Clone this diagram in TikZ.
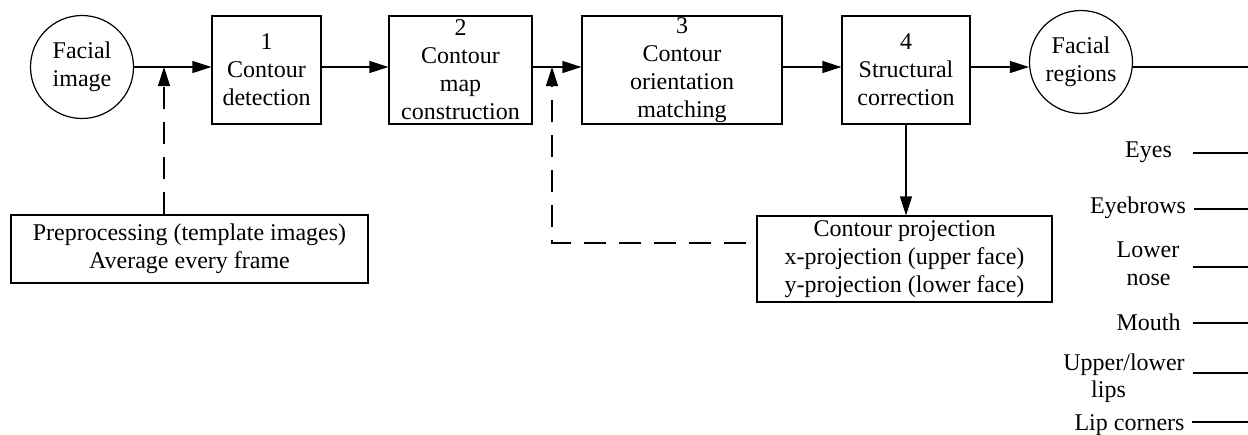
\documentclass[tikz,border=0pt]{standalone}
\usepackage{fontspec}
\setmainfont{Liberation Serif}
\usetikzlibrary{arrows.meta}
\begin{document}
\begin{tikzpicture}[x=1pt,y=-1pt,
  every node/.style={font=\fontsize{24}{28}\selectfont},
  stage/.style={draw, line width=1.2pt, inner sep=0pt, align=center, minimum height=108pt},
  term/.style={draw, circle, line width=1.2pt, minimum size=103pt, inner sep=0pt, align=center},
  conn/.style={line width=1.2pt},
  flow/.style={conn, -{Triangle[length=19pt,width=12pt]}},
  back/.style={conn, dash pattern=on 22pt off 13pt, -{Triangle[length=19pt,width=12pt]}},
  lab/.style={anchor=base, inner sep=0pt}
]
\useasboundingbox (0,0) rectangle (1248,434);

% processing chain
\node[term] (img) at (82,67) {Facial\\image};
\node[stage, minimum width=109pt] (s1) at (266.5,70) {1\\Contour\\detection};
\node[stage, minimum width=143pt] (s2) at (460.5,70) {2\\Contour\\map\\construction};
\node[stage, minimum width=200pt] (s3) at (682,70) {3\\Contour\\orientation\\matching};
\node[stage, minimum width=128pt] (s4) at (906,70) {4\\Structural\\correction};
\node[term] (reg) at (1081,62) {Facial\\regions};

% side inputs
\node[stage, minimum width=357pt, minimum height=68pt] (pre) at (189.5,249)
  {Preprocessing (template images)\\Average every frame};
\node[stage, minimum width=295pt, minimum height=86pt] (proj) at (904.5,259)
  {Contour projection\\x-projection (upper face)\\y-projection (lower face)};

% main flow line
\coordinate (fy) at (0,67);
\coordinate (rend) at (1248,67);
\draw[flow] (img.east) -- (s1.west |- fy);
\draw[flow] (s1.east |- fy) -- (s2.west |- fy);
\draw[flow] (s2.east |- fy) -- (s3.west |- fy);
\draw[flow] (s3.east |- fy) -- (s4.west |- fy);
\draw[flow] (s4.east |- fy) -- (reg.west |- fy);
\draw[conn] (reg.east |- fy) -- (rend);

% feedback / side connections
\coordinate (j1) at (164,67);
\draw[back] (pre.north -| j1) -- (j1);
\draw[flow] (s4.south) -- (s4.south |- proj.north);
\coordinate (j2) at (552,67);
\coordinate (j2b) at (552,243);
\draw[back, dash phase=25pt] (proj.west |- j2b) -- (j2b) -- (j2);

% facial region list
\node[lab] (eyes)  at (1148.5,157) {Eyes};
\node[lab] (brows) at (1138,213) {Eyebrows};
\node[lab] (lowr)  at (1148,257) {Lower};
\node[lab] (nose)  at (1148.5,285) {nose};
\node[lab] (mouth) at (1148.5,330) {Mouth};
\node[lab] (upper) at (1124,370) {Upper/lower};
\node[lab] (lips)  at (1108.5,397) {lips};
\node[lab] (corn)  at (1129.5,430) {Lip corners};

\coordinate (eA) at (1193,153);  \coordinate (eB) at (1248,153);
\coordinate (bA) at (1194,209);  \coordinate (bB) at (1248,209);
\coordinate (nA) at (1193,267);  \coordinate (nB) at (1248,267);
\coordinate (mA) at (1193,323);  \coordinate (mB) at (1248,323);
\coordinate (uA) at (1193,373);  \coordinate (uB) at (1248,373);
\coordinate (cA) at (1192,422);  \coordinate (cB) at (1248,422);
\draw[conn] (eA) -- (eB);
\draw[conn] (bA) -- (bB);
\draw[conn] (nA) -- (nB);
\draw[conn] (mA) -- (mB);
\draw[conn] (uA) -- (uB);
\draw[conn] (cA) -- (cB);
\end{tikzpicture}
\end{document}
